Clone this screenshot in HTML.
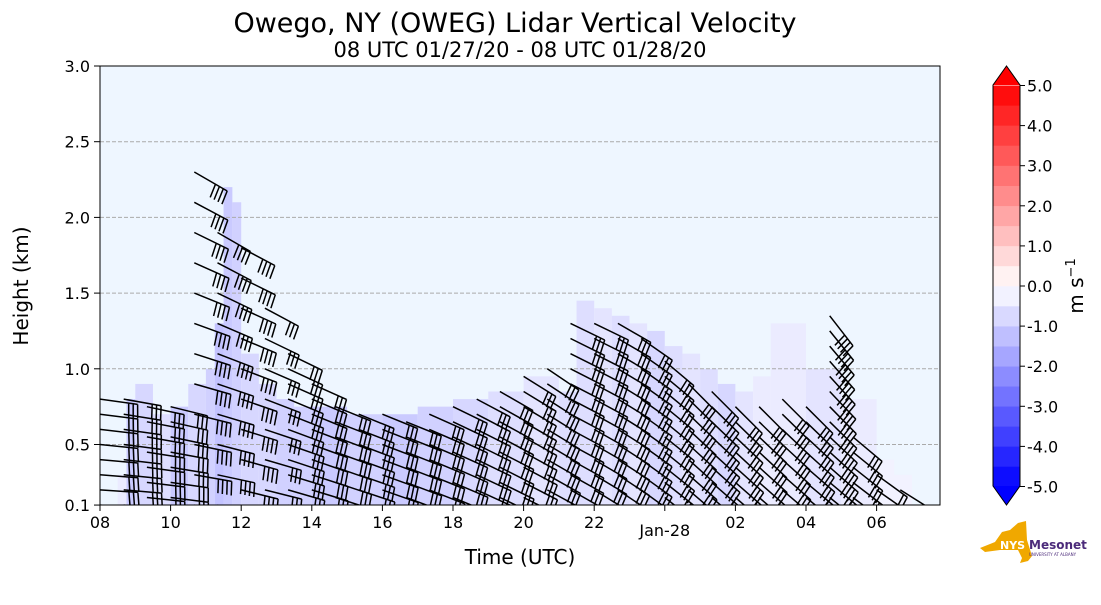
<!DOCTYPE html>
<html><head><meta charset="utf-8">
<style>
body{margin:0;background:#fff;width:1101px;height:600px;overflow:hidden;font-family:"Liberation Sans","DejaVu Sans",sans-serif;}
svg text{font-family:"DejaVu Sans","Liberation Sans",sans-serif;}
</style></head>
<body>
<svg id="chart" width="1101" height="600" xmlns="http://www.w3.org/2000/svg">
<defs><clipPath id="pc"><rect x="100" y="66" width="840" height="439"/></clipPath></defs>
<text x="515" y="32" font-size="27" text-anchor="middle">Owego, NY (OWEG) Lidar Vertical Velocity</text>
<text x="520" y="57" font-size="21" text-anchor="middle">08 UTC 01/27/20 - 08 UTC 01/28/20</text>
<rect x="100" y="66" width="840" height="439" fill="#eef6ff"/>
<g id="fill" clip-path="url(#pc)"></g>
<g id="grid"></g>
<g id="barbs" stroke="#000" stroke-width="1.5" fill="none" clip-path="url(#pc)"></g>
<rect x="100" y="66" width="840" height="439" fill="none" stroke="#000" stroke-width="1"/>
<g id="axes" font-size="16"></g>
<text transform="translate(28,286) rotate(-90)" font-size="20" text-anchor="middle">Height (km)</text>
<text x="520" y="564" font-size="20" text-anchor="middle">Time (UTC)</text>
<g id="cbar" font-size="16"></g>
<text transform="translate(1083,286) rotate(-90)" font-size="20" text-anchor="middle">m s<tspan font-size="13" dy="-8">−1</tspan></text>
<g>
<path d="M980 548 L995 542 L1002 532 L1010 530 L1018 523 L1026 521 L1027 540 L1032 556 L1028 561 L1020 563 L1022 558 L1018 550 L1000 550 L985 552 Z" fill="#f0a800"/>
<text x="1000" y="549" font-size="11" fill="#fff" font-weight="bold">NYS</text>
<text x="1029" y="549" font-size="12" fill="#4b2a7a" font-weight="bold">Mesonet</text>
<text x="1029" y="556" font-size="4" fill="#4b2a7a">UNIVERSITY AT ALBANY</text>
</g>
</svg>
<script>
var NS='http://www.w3.org/2000/svg';
// data
var yTicks=[0.1,0.5,1.0,1.5,2.0,2.5,3.0];
var yTickLabels=['0.1','0.5','1.0','1.5','2.0','2.5','3.0'];
var xTicks=[0,2,4,6,8,10,12,14,16,18,20,22];
var xTickLabels=['08','10','12','14','16','18','20','22','Jan-28','02','04','06'];
var fillTimes=[0.5,0.75,1,1.5,2,2.5,3,3.25,3.5,3.75,4,4.5,5,5.5,6,7,8,9,10,11,12,13,13.5,14,14.5,15,15.5,16,16.5,17,17.5,18,18.5,19,20,21,22,22.5];
var fillTops=[0.3,0.8,0.9,0.7,0.75,0.9,1.0,1.3,2.2,2.1,1.1,0.9,0.8,0.75,0.75,0.7,0.7,0.75,0.8,0.85,0.95,0.85,1.45,1.4,1.35,1.3,1.25,1.15,1.1,1.0,0.9,0.85,0.95,1.3,1.0,0.8,0.4,0.3];
var fillVals=[-0.3,-0.8,-0.6,-0.5,-0.8,-0.6,-0.7,-0.9,-0.8,-0.7,-0.6,-0.6,-0.7,-0.7,-0.8,-0.7,-0.8,-0.7,-0.6,-0.5,-0.4,-0.5,-0.5,-0.4,-0.5,-0.4,-0.6,-0.5,-0.4,-0.5,-0.6,-0.4,-0.3,-0.3,-0.4,-0.3,-0.2,-0.2];
var barbTimes=[0,0.67,1.33,2,2.67,3.33,4,4.67,5.33,6,6.67,7.33,8,8.67,9.33,10,10.67,11.33,12,12.67,13.33,14,14.67,15.33,16,16.67,17.33,18,18.67,19.33,20,20.67,21.33,22,22.67];
var barbTops=[0.8,0.8,0.75,0.75,2.3,1.9,1.8,1.4,1.1,0.9,0.75,0.7,0.7,0.65,0.7,0.75,0.8,0.85,0.95,1.0,1.3,1.3,1.3,1.2,1.05,0.9,0.85,0.75,0.75,0.8,0.75,1.35,0.55,0.3,0.2];
var barbStep=[0.1,0.1,0.1,0.1,0.2,0.2,0.2,0.2,0.1,0.1,0.1,0.1,0.1,0.1,0.1,0.1,0.1,0.1,0.1,0.1,0.1,0.1,0.1,0.1,0.1,0.1,0.1,0.1,0.1,0.1,0.1,0.1,0.1,0.1,0.1];
var dirLow=[3,4,5,6,8,10,12,14,15,16,17,18,19,20,21,22,24,25,26,28,30,32,34,36,38,40,40,40,40,40,38,38,36,34,32];
var dirHigh=[8,10,12,14,30,30,28,28,26,24,22,22,22,22,24,26,28,30,32,34,26,26,30,35,40,45,45,45,45,45,45,52,40,36,32];
var barbSpeed=[3,3,3,3,4,4,4,3,3,3,3,3,3,3,3,3,3,3,3,3,3,3,3,3,3,3,3,3,3,3,3,4,3,2,2];

function X(h){return 100+h*35.3;}
function Y(k){return 66+(3.0-k)*151.4;}
function el(tag,attrs,parent){var e=document.createElementNS(NS,tag);for(var k in attrs)e.setAttribute(k,attrs[k]);parent.appendChild(e);return e;}
function velColor(v){
  var t=Math.max(-1,Math.min(1,v/5));
  var r,g,b;
  if(t<0){r=255+t*255;g=255+t*255;b=255;}else{r=255;g=255-t*255;b=255-t*255;}
  return 'rgb('+Math.round(r)+','+Math.round(g)+','+Math.round(b)+')';
}
var fillG=document.getElementById('fill');
for(var i=0;i<fillTimes.length;i++){
  var x0=X(fillTimes[i]);
  var x1=i<fillTimes.length-1?X(fillTimes[i+1]):X(fillTimes[i]+0.5);
  var r=el('rect',{x:x0,y:Y(fillTops[i]),width:Math.max(1,x1-x0),height:Y(0.1)-Y(fillTops[i]),fill:velColor(fillVals[i]*1.3)},fillG);
  
  
}
var grid=document.getElementById('grid');
for(var i=1;i<yTicks.length-1;i++){
  var l=el('line',{x1:100,x2:940,y1:Y(yTicks[i]),y2:Y(yTicks[i]),stroke:'#aaa','stroke-dasharray':'4,2','stroke-width':1},grid);
  
  
}
var axes=document.getElementById('axes');
for(var i=0;i<yTicks.length;i++){
  var y=Y(yTicks[i]);
  el('line',{x1:94,x2:100,y1:y,y2:y,stroke:'#000'},axes);
  var t=el('text',{x:90,y:y+6,'text-anchor':'end'},axes);t.textContent=yTickLabels[i];
  
  
}
for(var i=0;i<xTicks.length;i++){
  var x=X(xTicks[i]);
  el('line',{x1:x,x2:x,y1:505,y2:511,stroke:'#000'},axes);
  var t=el('text',{x:x,y:xTickLabels[i]=='Jan-28'?536:528,'text-anchor':'middle'},axes);t.textContent=xTickLabels[i];
  
  
}
var bg=document.getElementById('barbs');
for(var i=0;i<barbTimes.length;i++){
  var st=barbStep[i];
  var n=Math.round((barbTops[i]-0.1)/st);
  for(var j=0;j<=n;j++){
    var k=barbTops[i]-j*st;
    if(k<0.09)break;
    var f=n>0?(n-j)/n:0;
    var ang=(dirLow[i]+(dirHigh[i]-dirLow[i])*f)*Math.PI/180;
    var L=38;
    var x0=X(barbTimes[i]),y0=Y(k);
    var ux=Math.cos(ang),uy=Math.sin(ang);
    var x1=x0+L*ux,y1=y0+L*uy;
    var d='M'+x0.toFixed(1)+' '+y0.toFixed(1)+'L'+x1.toFixed(1)+' '+y1.toFixed(1);
    var px=-uy,py=ux;
    for(var s=0;s<barbSpeed[i];s++){
      var bx=x1-s*4.5*ux,by=y1-s*4.5*uy;
      d+='M'+bx.toFixed(1)+' '+by.toFixed(1)+'L'+(bx+14*px+2*ux).toFixed(1)+' '+(by+14*py+2*uy).toFixed(1);
    }
    var p=el('path',{d:d},bg);
    
    
  }
}
// colorbar
var cb=document.getElementById('cbar');
var cbLevels=[];for(var v=-5;v<5;v+=0.5)cbLevels.push(v);
var cbTicks=[-5,-4,-3,-2,-1,0,1,2,3,4,5];
var cbTickLabels=['-5.0','-4.0','-3.0','-2.0','-1.0','0.0','1.0','2.0','3.0','4.0','5.0'];
function CY(v){return 286-v*40.1;}
for(var i=0;i<cbLevels.length;i++){
  var r=el('rect',{x:993,y:CY(cbLevels[i]+0.5),width:27,height:20.3,fill:velColor(cbLevels[i]+0.25)},cb);
  
  
}
el('polygon',{points:'993,85 1020,85 1006.5,66',fill:'#ff0000'},cb);
el('polygon',{points:'993,486 1020,486 1006.5,505',fill:'#0000ff'},cb);
el('polygon',{points:'993,85 1006.5,66 1020,85 1020,486 1006.5,505 993,486',fill:'none',stroke:'#000'},cb);
for(var i=0;i<cbTicks.length;i++){
  var y=CY(cbTicks[i]);
  el('line',{x1:1020,x2:1025,y1:y,y2:y,stroke:'#000'},cb);
  var t=el('text',{x:1027,y:y+6},cb);t.textContent=cbTickLabels[i];
  
  
}
</script>
</body></html>
